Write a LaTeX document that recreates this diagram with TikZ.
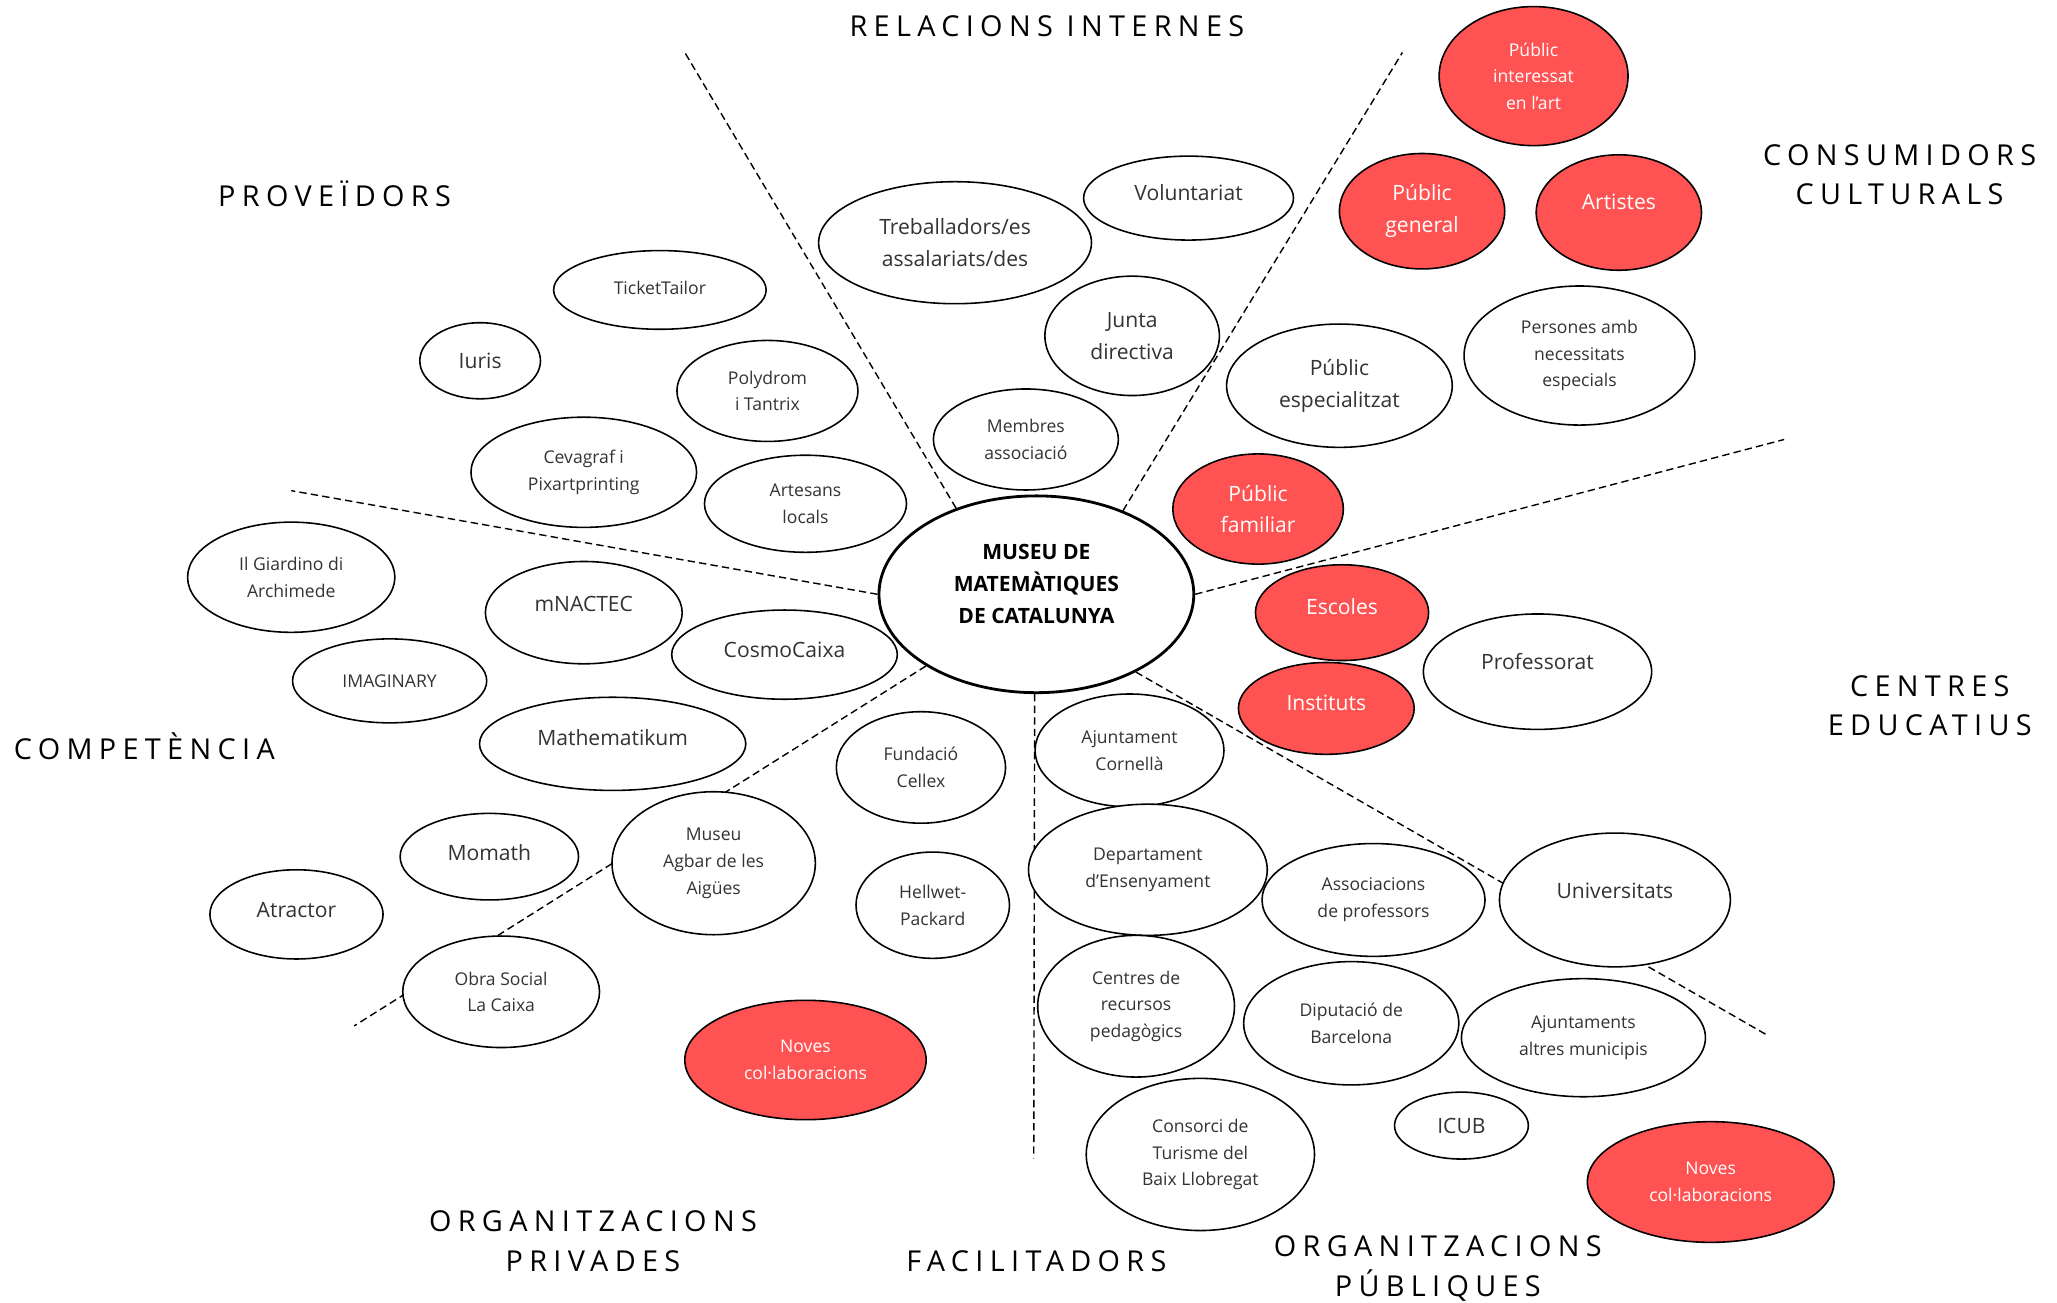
\documentclass[tikz,border=0pt]{standalone}
\usepackage{fontspec}
\setmainfont{Open Sans}
\newfontfamily\titlefont[LetterSpace=22]{Open Sans}
\usetikzlibrary{shapes.geometric}
\definecolor{rosso}{RGB}{255,82,82}
\newcommand{\pxu}{0.013119cm}
\tikzset{
  bub/.style 2 args={ellipse,draw,fill=white,line width=0.45pt,inner sep=0pt,align=center,text=black!80,minimum width=#1*\pxu,minimum height=#2*\pxu},
  hot/.style={fill=rosso,text=white},
  big/.style={font=\fontsize{6}{9}\selectfont},
  small/.style={font=\fontsize{5}{7.6}\selectfont},
  sep/.style={line width=0.4pt,dash pattern=on 2.1pt off 1.2pt},
  title/.style={font=\titlefont\fontsize{8.2}{11.2}\selectfont,align=center}
}
\begin{document}
\begin{tikzpicture}[x=\pxu,y=-\pxu]
                \fill[white] (0,0) rectangle (1568,993);
                \useasboundingbox (0,0) rectangle (1568,993);
                %% museum
                \node[bub={240}{150},line width=0.8pt,font=\bfseries\fontsize{6}{9}\selectfont,text=black,text depth=0.21cm] (museu) at (790,453) {MUSEU DE\\MATEMÀTIQUES\\DE CATALUNYA};
                %% borders between groups
                \coordinate (pNW) at (522,40);
                \coordinate (pNE) at (1069,40);
                \coordinate (pE) at (1360,335);
                \coordinate (pSE) at (1347,789);
                \coordinate (pS) at (788,883);
                \coordinate (pSW) at (270,782);
                \coordinate (pW) at (222,374);
                \draw[sep] (museu.133) -- (pNW);
                \draw[sep] (museu.44) -- (pNE);
                \draw[sep] (museu.0) -- (pE);
                \draw[sep] (museu.322) -- (pSE);
                \draw[sep] (museu.269) -- (pS);
                \draw[sep] (museu.213) -- (pSW);
                \draw[sep] (museu.180) -- (pW);
                %% relacions internes
                \node[bub={208}{93},big] (treb) at (728,185) {Treballadors/es\\assalariats/des};
                \node[bub={160}{64},big,text depth=0.105cm] (volun) at (906,151) {Voluntariat};
                \node[bub={133}{91},big] (junta) at (863,256) {Junta\\directiva};
                \node[bub={141}{77},small] (membres) at (782,335) {Membres\\associació};
                %% consumidors culturals
                \node[bub={144}{106},hot,small] (pinter) at (1169,58) {Públic\\interessat\\en l’art};
                \node[bub={126}{88},hot,big] (pgen) at (1084,161) {Públic\\general};
                \node[bub={126}{88},hot,big,text depth=0.21cm] (artistes) at (1234,162) {Artistes};
                \node[bub={172}{94},big] (pesp) at (1021,294) {Públic\\especialitzat};
                \node[bub={176}{106},small] (pers) at (1204,271) {Persones amb\\necessitats\\especials};
                \node[bub={130}{84},hot,big] (pfam) at (959,388) {Públic\\familiar};
                %% centres educatius
                \node[bub={132}{73},hot,big,text depth=0.131cm] (escoles) at (1023,467) {Escoles};
                \node[bub={134}{70},hot,big,text depth=0.105cm] (instituts) at (1011,540) {Instituts};
                \node[bub={174}{88},big,text depth=0.21cm] (prof) at (1172,512) {Professorat};
                \node[bub={176}{102},big,text depth=0.184cm] (univ) at (1231,686) {Universitats};
                %% facilitadors / organitzacions publiques
                \node[bub={144}{86},small] (ajcorn) at (861,572) {Ajuntament\\Cornellà};
                \node[bub={182}{100},small] (dept) at (875,663) {Departament\\d’Ensenyament};
                \node[bub={170}{86},small] (assoc) at (1047,686) {Associacions\\de professors};
                \node[bub={150}{108},small] (crp) at (866,767) {Centres de\\recursos\\pedagògics};
                \node[bub={164}{94},small] (dipu) at (1030,780) {Diputació de\\Barcelona};
                \node[bub={186}{90},small] (ajalt) at (1207,791) {Ajuntaments\\altres municipis};
                \node[bub={102}{51},big] (icub) at (1114,858) {ICUB};
                \node[bub={174}{116},small] (consorci) at (915,880) {Consorci de\\Turisme del\\Baix Llobregat};
                \node[bub={188}{92},hot,small] (noves2) at (1304,901) {Noves\\col·laboracions};
                %% proveidors
                \node[bub={162}{60},small,text depth=0.052cm] (ticket) at (503,221) {TicketTailor};
                \node[bub={92}{58},big] (iuris) at (366,275) {Iuris};
                \node[bub={138}{77},small] (poly) at (585,298) {Polydrom\\i Tantrix};
                \node[bub={172}{84},small] (ceva) at (445,360) {Cevagraf i\\Pixartprinting};
                \node[bub={154}{74},small] (artesans) at (614,384) {Artesans\\locals};
                %% competencia
                \node[bub={158}{84},small] (giard) at (222,440) {Il Giardino di\\Archimede};
                \node[bub={150}{78},big,text depth=0.184cm] (mnactec) at (445,467) {mNACTEC};
                \node[bub={172}{68},big,text depth=0.105cm] (cosmo) at (598,499) {CosmoCaixa};
                \node[bub={148}{64},small] (imag) at (297,519) {IMAGINARY};
                \node[bub={203}{71},big,text depth=0.131cm] (math) at (467,567) {Mathematikum};
                \node[bub={136}{66},big,text depth=0.079cm] (momath) at (373,653) {Momath};
                \node[bub={132}{68},big,text depth=0.079cm] (atractor) at (226,697) {Atractor};
                %% organitzacions privades
                \node[bub={155}{109},small] (agbar) at (544,658) {Museu\\Agbar de les\\Aigües};
                \node[bub={150}{85},small] (obra) at (382,756) {Obra Social\\La Caixa};
                \node[bub={129}{85},small] (cellex) at (702,585) {Fundació\\Cellex};
                \node[bub={117}{81},small] (hp) at (711,690) {Hellwet-\\Packard};
                \node[bub={184}{91},hot,small] (noves1) at (614,808) {Noves\\col·laboracions};
                %% group titles
                \node[title] (tRI) at (798,20) {RELACIONS INTERNES};
                \node[title] (tPR) at (255,148) {PROVEÏDORS};
                \node[title] (tCC) at (1448,133) {CONSUMIDORS\\CULTURALS};
                \node[title] (tCE) at (1471,538) {CENTRES\\EDUCATIUS};
                \node[title] (tCO) at (110,569) {COMPETÈNCIA};
                \node[title] (tOV) at (452,946) {ORGANITZACIONS\\PRIVADES};
                \node[title] (tFA) at (790,961) {FACILITADORS};
                \node[title] (tOP) at (1096,967) {ORGANITZACIONS\\PÚBLIQUES};
            \end{tikzpicture}
\end{document}
